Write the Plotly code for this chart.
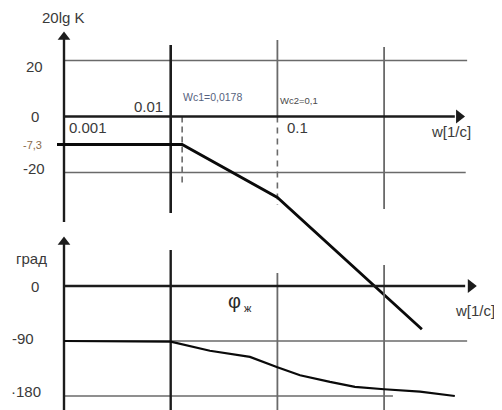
import math
import plotly.graph_objects as go

# ---------------- data ----------------
freq_ticks = [0.001, 0.01, 0.1, 1.0]          # decade grid lines
freq_tick_labels = ["0.001", "0.01", "0.1"]
gain_ticks = [20, 0, -20]                      # dB grid
gain_tick_labels = ["20", "0", "-20"]
phase_ticks = [0, -90, -180]                   # degree grid
phase_tick_labels = ["0", "-90", "\u00b7180"]

wc1_label = "Wc1=0,0178"
wc2_label = "Wc2=0,1"
k_label = "-7,3"
phi_label, phi_sub = "φ", "ж"

# amplitude asymptote (20lg K), as drawn
amp_w = [0.00086, 0.0128, 0.1, 2.26]
amp_db = [-10.0, -10.0, -28.9, -76.0]

# phase curve, as drawn
phase_w = [0.001, 0.01, 0.0233, 0.0553, 0.1, 0.163, 0.311, 0.533, 1.0, 2.17, 4.6]
phase_deg = [-90, -91, -106, -116, -133, -146, -157, -165, -169, -173, -180]

# ---------------- layout helpers ----------------
OFF = 8                 # page body margin
W, H = 502 - OFF, 410 - OFF
PX_DEC = 106.7          # pixels per decade
X_REF_PX = 64 - OFF     # pixel of 0.001
DB_ZERO_PX, DB_PX = 116.5 - OFF, 2.8
PH_ZERO_PX, PH_PX = 286.0 - OFF, 0.611

xr = [math.log10(freq_ticks[0]) - X_REF_PX / PX_DEC,
      math.log10(freq_ticks[0]) + (W - X_REF_PX) / PX_DEC]
yr_db = [(DB_ZERO_PX - H) / DB_PX, DB_ZERO_PX / DB_PX]
yr_ph = [(PH_ZERO_PX - H) / PH_PX, PH_ZERO_PX / PH_PX]


def px(sx):
    """screen x pixel -> paper fraction"""
    return (sx - OFF) / W


def db_at(sy):
    return (DB_ZERO_PX - (sy - OFF)) / DB_PX


def ph_at(sy):
    return (PH_ZERO_PX - (sy - OFF)) / PH_PX


AX = "#1c1c1c"
GR = "#6a6a6a"
TXT = "#3a3a3a"
FONT = "Liberation Sans, Arial, sans-serif"

fig = go.Figure()


def seg(x, y, color, width, axis="y", dash="solid"):
    fig.add_trace(go.Scatter(x=x, y=y, mode="lines", yaxis=axis,
                             line=dict(color=color, width=width, dash=dash),
                             hoverinfo="skip", showlegend=False))


w_lo, w_end = freq_ticks[0], 6.0
# --- top panel grid ---
seg([w_lo, w_end], [gain_ticks[0]] * 2, GR, 1.6)
seg([w_lo, w_end * 0.97], [gain_ticks[2]] * 2, GR, 1.6)
seg([freq_ticks[1]] * 2, [db_at(45), db_at(213)], AX, 2.6)
seg([freq_ticks[2]] * 2, [db_at(40), 0], GR, 1.8)
seg([freq_ticks[2]] * 2, [0, db_at(205)], GR, 1.6, dash="6px,5px")
seg([freq_ticks[3]] * 2, [db_at(47), db_at(209)], GR, 1.8)
seg([amp_w[1]] * 2, [0, db_at(185)], GR, 1.6, dash="6px,4px")
# axes top
seg([w_lo] * 2, [db_at(38), db_at(222)], AX, 2.4)
seg([w_lo, 4.6], [0, 0], AX, 2.6)

# --- bottom panel grid ---
seg([w_lo, w_end], [phase_ticks[1]] * 2, GR, 1.6, axis="y2")
seg([w_lo, 1.21], [phase_ticks[2]] * 2, GR, 1.6, axis="y2")
seg([freq_ticks[1]] * 2, [ph_at(250), ph_at(420)], AX, 2.4, axis="y2")
seg([freq_ticks[2]] * 2, [ph_at(273), ph_at(420)], GR, 1.8, axis="y2")
seg([freq_ticks[3]] * 2, [ph_at(265), ph_at(420)], GR, 1.8, axis="y2")
seg([w_lo] * 2, [ph_at(244), ph_at(420)], AX, 2.4, axis="y2")
seg([w_lo, 5.75], [0, 0], AX, 2.6, axis="y2")

# --- curves ---
seg(amp_w, amp_db, "#0a0a0a", 2.8)
seg(phase_w, phase_deg, "#0a0a0a", 2.2, axis="y2")

# --- arrow heads ---
fig.add_trace(go.Scatter(x=[w_lo], y=[db_at(37)], mode="markers",
                         marker=dict(symbol="triangle-up", size=11, color=AX),
                         hoverinfo="skip", showlegend=False))
fig.add_trace(go.Scatter(x=[5.04], y=[0], mode="markers",
                         marker=dict(symbol="triangle-right", size=12, color=AX),
                         hoverinfo="skip", showlegend=False))
fig.add_trace(go.Scatter(x=[w_lo], y=[ph_at(242)], mode="markers", yaxis="y2",
                         marker=dict(symbol="triangle-up", size=11, color=AX),
                         hoverinfo="skip", showlegend=False))
fig.add_trace(go.Scatter(x=[6.5], y=[0], mode="markers", yaxis="y2",
                         marker=dict(symbol="triangle-right", size=12, color=AX),
                         hoverinfo="skip", showlegend=False))

# --- text ---
ann = []


def txt(x, y, s, yref="y", size=14, color=TXT, xanchor="left", xref="x", yanchor="middle"):
    ann.append(dict(x=x, y=y, xref=xref, yref=yref, text=s, showarrow=False,
                    xanchor=xanchor, yanchor=yanchor,
                    font=dict(family=FONT, size=size, color=color)))


lg = math.log10
# y tick labels (top)
txt(px(45), gain_ticks[0] - 2.2, gain_tick_labels[0], xref="paper", xanchor="right", size=15)
txt(px(41), gain_ticks[1], gain_tick_labels[1], xref="paper", xanchor="right", size=15)
txt(px(47), gain_ticks[2] + 1.5, gain_tick_labels[2], xref="paper", xanchor="right", size=15)
txt(px(44), amp_db[0], k_label, xref="paper", xanchor="right", size=11, color="#8a6a4a")
txt(px(63), db_at(17), "20lg K", xref="paper", xanchor="center", size=15)
# x labels (top)
txt(lg(freq_ticks[0]) + 0.03, db_at(127), freq_tick_labels[0], size=15)
txt(lg(freq_ticks[1]) - 0.05, db_at(106), freq_tick_labels[1], xanchor="right", size=15)
txt(lg(freq_ticks[2]) + 0.07, db_at(127), freq_tick_labels[2], size=15)
txt(lg(amp_w[1]) - 0.01, db_at(97), wc1_label, size=10.5, color="#56627e")
txt(lg(freq_ticks[2]) + 0.01, db_at(100), wc2_label, size=9.5, color="#4a4a4a")
txt(px(429), db_at(131), "w[1/c]", xref="paper", size=15)
# bottom panel
txt(px(49), ph_at(258), "град", xref="paper", xanchor="right", yref="y2", size=15)
txt(px(41), phase_ticks[0], phase_tick_labels[0], xref="paper", xanchor="right", yref="y2", size=15)
txt(px(36), ph_at(338), phase_tick_labels[1], xref="paper", xanchor="right", yref="y2", size=15)
txt(px(43), ph_at(391), phase_tick_labels[2], xref="paper", xanchor="right", yref="y2", size=15)
txt(px(453), ph_at(310), "w[1/c]", xref="paper", yref="y2", size=15)
txt(px(234), ph_at(301), phi_label, xref="paper", xanchor="center", yref="y2", size=20, color="#2a2a2a")
txt(px(248), ph_at(308), phi_sub, xref="paper", xanchor="center", yref="y2", size=11, color="#2a2a2a")

fig.update_layout(
    width=W, height=H, autosize=False,
    margin=dict(l=0, r=0, t=0, b=0),
    paper_bgcolor="white", plot_bgcolor="white",
    showlegend=False,
    annotations=ann,
    xaxis=dict(type="log", range=xr, visible=False, domain=[0, 1]),
    yaxis=dict(range=yr_db, visible=False, domain=[0, 1]),
    yaxis2=dict(range=yr_ph, visible=False, overlaying="y", domain=[0, 1]),
)

fig.write_html("out.html")
